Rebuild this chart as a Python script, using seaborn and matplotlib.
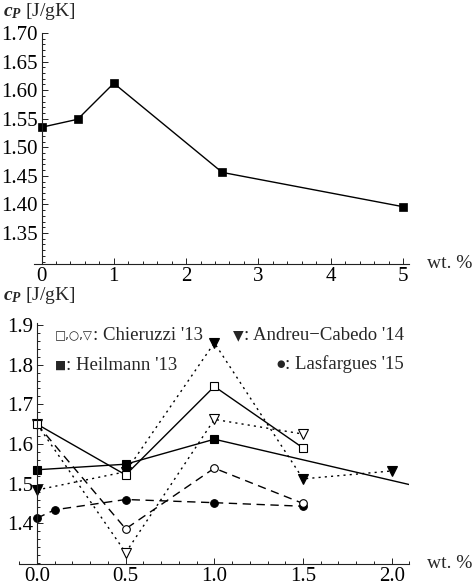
import matplotlib
matplotlib.use("Agg")
import matplotlib.pyplot as plt
from matplotlib.ticker import MultipleLocator
import seaborn as sns

# ---------------- data ----------------
wt_heil = [0.0, 0.5, 1.0, 2.5, 5.0]
cp_heil = [1.535, 1.549, 1.612, 1.456, 1.396]

wt_chier = [0.0, 0.5, 1.0, 1.5]
cp_chier_sq = [1.650, 1.522, 1.745, 1.590]
cp_chier_ci = [1.650, 1.386, 1.539, 1.450]
cp_chier_tri = [1.650, 1.326, 1.662, 1.625]

wt_andreu = [0.0, 0.5, 1.0, 1.5, 2.0]
cp_andreu = [1.484, 1.530, 1.855, 1.512, 1.532]

wt_lasf = [0.0, 0.1, 0.5, 1.0, 1.5]
cp_lasf = [1.413, 1.434, 1.460, 1.452, 1.443]

top_xticks = [0, 1, 2, 3, 4, 5]
top_yticks = [1.35, 1.40, 1.45, 1.50, 1.55, 1.60, 1.65, 1.70]
bot_xticks = [0.0, 0.5, 1.0, 1.5, 2.0]
bot_yticks = [1.4, 1.5, 1.6, 1.7, 1.8, 1.9]

ylabel_text = r"$c_P$ [J/gK]"
xlabel_text = "wt. %"
legend_chier = ("\u25a1,\u25cb,\u25bd", ": Chieruzzi '13")
legend_heil = ("\u25a0", ": Heilmann '13")
legend_andreu = ("\u25bc", ": Andreu\u2212Cabedo '14")
legend_lasf = ("\u25cf", ": Lasfargues '15")

# ---------------- style ----------------
sns.set_style("ticks")
plt.rcParams["font.family"] = ["Liberation Serif", "DejaVu Sans"]
plt.rcParams["mathtext.fontset"] = "custom"
plt.rcParams["mathtext.rm"] = "Liberation Serif"
plt.rcParams["mathtext.it"] = "Liberation Serif:italic:bold"
plt.rcParams["mathtext.bf"] = "Liberation Serif:bold"

W, H = 473, 587
fig = plt.figure(figsize=(W / 100, H / 100), dpi=100)


def px_axes(x0, x1, y0, y1):
    return fig.add_axes([x0 / W, 1 - y1 / H, (x1 - x0) / W, (y1 - y0) / H])


def style_axes(ax, tick_fs, xpad):
    for s in ("top", "right"):
        ax.spines[s].set_visible(False)
    ax.spines["left"].set_position(("data", 0))
    for s in ("left", "bottom"):
        ax.spines[s].set_linewidth(0.8)
        ax.spines[s].set_color("#222222")
    ax.tick_params(which="both", direction="in", color="#222222", width=0.7,
                   labelsize=tick_fs, labelcolor="black")
    ax.tick_params(which="major", length=4.0)
    ax.tick_params(axis="x", which="major", pad=xpad)
    ax.tick_params(axis="y", which="major", pad=3)
    ax.tick_params(which="minor", length=2.2)
    ax.set_facecolor("white")
    ax.set_xlabel("")
    ax.set_ylabel("")


LW = 1.0

# ---------------- top panel ----------------
ax1 = px_axes(41.5 - 0.1 * 72.3, 41.5 + 5.08 * 72.3, 33, 264)
sns.lineplot(x=wt_heil, y=cp_heil, ax=ax1, color="black", lw=LW,
             marker="s", markersize=6, markerfacecolor="black",
             markeredgecolor="black", markeredgewidth=0.5,
             estimator=None, sort=False, legend=False)
ax1.set_xlim(-0.1, 5.08)
ax1.set_ylim(1.2957, 1.70)
ax1.set_xticks(top_xticks)
ax1.set_xticklabels([str(t) for t in top_xticks])
ax1.set_yticks(top_yticks)
ax1.set_yticklabels(["%.2f" % t for t in top_yticks])
ax1.xaxis.set_minor_locator(MultipleLocator(0.2))
ax1.yaxis.set_minor_locator(MultipleLocator(0.01))
style_axes(ax1, 15, 2.0)

# ---------------- bottom panel ----------------
bx0 = 37.0
bsc = 177.35
ax2 = px_axes(bx0 - 0.1 * bsc, bx0 + 2.1 * bsc, 323, 564)

series = [
    (wt_andreu, cp_andreu, (0, (1.5, 3.0)), "v", 7.5, "black"),
    (wt_lasf, cp_lasf, (0, (6, 4)), "o", 5.5, "black"),
    (wt_heil, cp_heil, "-", "s", 6, "black"),
    (wt_chier, cp_chier_tri, (0, (1.5, 3.0)), "v", 7.5, "white"),
    (wt_chier, cp_chier_ci, (0, (6, 4)), "o", 5.5, "white"),
    (wt_chier, cp_chier_sq, "-", "s", 5.5, "white"),
]
for xs, ys, ls, mk, ms, fc in series:
    sns.lineplot(x=xs, y=ys, ax=ax2, color="black", lw=LW, linestyle=ls,
                 marker=mk, markersize=ms, markerfacecolor=fc,
                 markeredgecolor="black", markeredgewidth=0.8,
                 estimator=None, sort=False, legend=False)

ax2.set_xlim(-0.1, 2.1)
ax2.set_ylim(1.2974, 1.905)
ax2.set_xticks(bot_xticks)
ax2.set_xticklabels(["%.1f" % t for t in bot_xticks])
ax2.set_yticks(bot_yticks)
ax2.set_yticklabels(["%.1f" % t for t in bot_yticks])
ax2.xaxis.set_minor_locator(MultipleLocator(0.1))
ax2.yaxis.set_minor_locator(MultipleLocator(0.02))
style_axes(ax2, 15, 2.5)

# ---------------- texts ----------------
fs_lab = 14
fig.text(3 / W, 1 - 12 / H, ylabel_text, ha="left", va="center", fontsize=fs_lab)
fig.text(3 / W, 1 - 296 / H, ylabel_text, ha="left", va="center", fontsize=fs_lab)
fig.text(427 / W, 1 - 263 / H, xlabel_text, ha="left", va="center", fontsize=14)
fig.text(427 / W, 1 - 563 / H, xlabel_text, ha="left", va="center", fontsize=14)

renderer = fig.canvas.get_renderer()
fs_leg = 13.5


def legend_entry(x, y_base, sym, sym_fs, sym_lift, rest, align):
    """Symbol (small DejaVu glyphs) followed by serif text, on one baseline."""
    t_sym = fig.text(0, 1 - (y_base - sym_lift) / H, sym, ha="left",
                     va="baseline", fontsize=sym_fs, family="DejaVu Sans")
    t_rest = fig.text(0, 1 - y_base / H, rest, ha="left", va="baseline",
                      fontsize=fs_leg)
    w_sym = t_sym.get_window_extent(renderer).width
    w_rest = t_rest.get_window_extent(renderer).width
    x0 = x if align == "left" else x - (w_sym + w_rest)
    t_sym.set_x(x0 / W)
    t_rest.set_x((x0 + w_sym) / W)


legend_entry(55, 340, legend_chier[0], 8.5, 1.0, legend_chier[1], "left")
legend_entry(55, 370, legend_heil[0], 8.5, 1.0, legend_heil[1], "left")
legend_entry(404, 340, legend_andreu[0], 10, 0.5, legend_andreu[1], "right")
legend_entry(404, 369, legend_lasf[0], 7, 1.5, legend_lasf[1], "right")

fig.savefig("out.png", dpi=100, facecolor="white")
